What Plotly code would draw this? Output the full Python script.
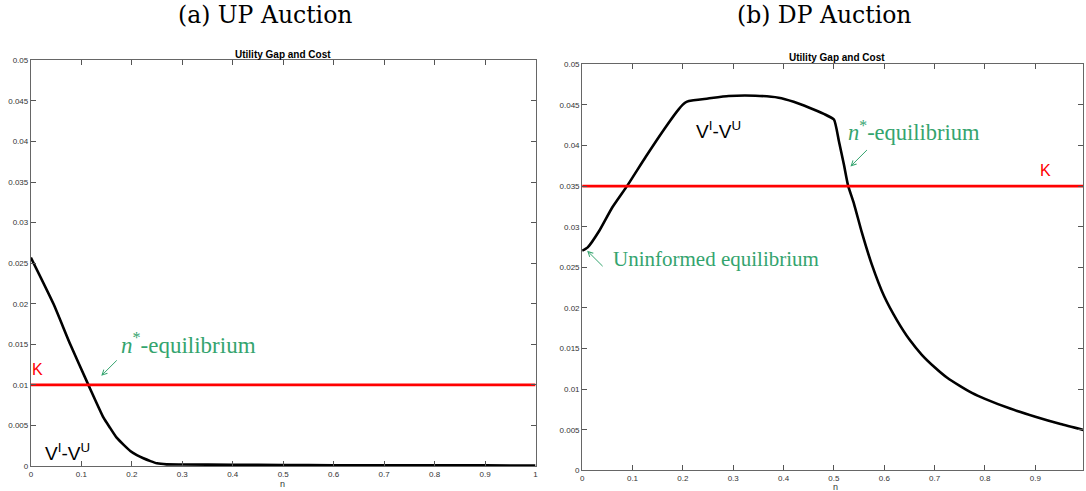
import plotly.graph_objects as go

# ---- data ----
n_up = [0, 0.045, 0.078, 0.114, 0.144, 0.157, 0.17, 0.184, 0.197, 0.21, 0.223, 0.237,
        0.25, 0.269, 0.3, 0.4, 0.5, 0.6, 0.7, 0.8, 0.9, 1.0]
gap_up = [0.0257, 0.01996, 0.0150, 0.0100, 0.00596, 0.0047, 0.00349, 0.0026, 0.00185,
          0.00135, 0.00095, 0.0006, 0.00033, 0.0002, 0.00018, 0.00015, 0.00012, 0.0001,
          0.00009, 0.00008, 0.00007, 0.00006]
k_up = [0.01, 0.01]

n_dp = [0, 0.011, 0.034, 0.06, 0.09, 0.126, 0.166, 0.192, 0.205, 0.212, 0.25, 0.291,
        0.344, 0.39, 0.42, 0.45, 0.48, 0.5, 0.51, 0.52, 0.528, 0.54, 0.555, 0.575,
        0.60, 0.625, 0.65, 0.675, 0.70, 0.725, 0.75, 0.775, 0.80, 0.85, 0.90, 0.95, 1.0]
gap_dp = [0.02705, 0.02746, 0.0295, 0.0324, 0.0351, 0.0386, 0.0423, 0.0445, 0.0453,
          0.0455, 0.0458, 0.0461, 0.04614, 0.0459, 0.0454, 0.0447, 0.0439, 0.0432,
          0.0405, 0.0376, 0.0351, 0.0328, 0.0294, 0.0254, 0.0214, 0.0185, 0.0161,
          0.0142, 0.0127, 0.0114, 0.0104, 0.0095, 0.0088, 0.0076, 0.0066, 0.0057, 0.0049]
k_dp = [0.035, 0.035]
k_x = [0, 1]

x_ticks = [0, 0.1, 0.2, 0.3, 0.4, 0.5, 0.6, 0.7, 0.8, 0.9, 1]
x_labels = ["0", "0.1", "0.2", "0.3", "0.4", "0.5", "0.6", "0.7", "0.8", "0.9", "1"]
y_ticks = [0, 0.005, 0.01, 0.015, 0.02, 0.025, 0.03, 0.035, 0.04, 0.045, 0.05]
y_labels = ["0", "0.005", "0.01", "0.015", "0.02", "0.025", "0.03", "0.035", "0.04", "0.045", "0.05"]

GREEN = "#34a46e"
W, H = 1086, 491


def py(y):
    # page pixel for a desired photographed pixel (capture squeezes vertically)
    return (y - 3.7) / 0.9802


def px(x):
    return (x - 1.6) / 0.997


def fy(y):
    return 1 - py(y) / H


def fx(x):
    return px(x) / W


fig = go.Figure()
fig.add_trace(go.Scatter(x=n_up, y=gap_up, mode="lines",
                         line=dict(color="black", width=2.6, shape="spline", smoothing=0.5),
                         xaxis="x", yaxis="y", showlegend=False))
fig.add_trace(go.Scatter(x=k_x, y=k_up, mode="lines", line=dict(color="#ff0000", width=2.6),
                         xaxis="x", yaxis="y", showlegend=False))
fig.add_trace(go.Scatter(x=n_dp, y=gap_dp, mode="lines",
                         line=dict(color="black", width=2.6, shape="spline", smoothing=0.5),
                         xaxis="x2", yaxis="y2", showlegend=False))
fig.add_trace(go.Scatter(x=k_x, y=k_dp, mode="lines", line=dict(color="#ff0000", width=2.6),
                         xaxis="x2", yaxis="y2", showlegend=False))

axcommon = dict(showline=True, linecolor="#666", linewidth=1, mirror="ticks", ticks="inside",
                ticklen=5, tickcolor="#555", showgrid=False, zeroline=False,
                tickfont=dict(family="Liberation Sans, Arial", size=8, color="#333"))

x2_end = px(1086)
fig.update_layout(
    width=W, height=H, margin=dict(l=0, r=0, t=0, b=0),
    paper_bgcolor="white", plot_bgcolor="white",
    xaxis=dict(domain=[fx(30.5), fx(536)], range=[0, 1], anchor="y",
               tickvals=x_ticks, ticktext=x_labels, **axcommon),
    yaxis=dict(domain=[fy(465), fy(60)], range=[0, 0.05], anchor="x",
               tickvals=y_ticks, ticktext=y_labels, **axcommon),
    xaxis2=dict(domain=[fx(582.7), 1.0], range=[0, (x2_end - px(582.7)) / (px(1088.7) - px(582.7))],
                anchor="y2", tickvals=x_ticks, ticktext=x_labels, **axcommon),
    yaxis2=dict(domain=[fy(469.3), fy(64)], range=[0, 0.05], anchor="x2",
                tickvals=y_ticks, ticktext=y_labels, **axcommon),
)

ann = []
serif = "DejaVu Serif, serif"
latex = "Liberation Serif, Times New Roman, serif"
sans = "Liberation Sans, Arial, sans-serif"


def txt(text, xref, yref, x, y, font):
    ann.append(dict(text=text, xref=xref, yref=yref, x=x, y=y, showarrow=False,
                    xanchor="center", yanchor="middle", font=font))


# panel titles
txt("(a) UP Auction", "paper", "paper", fx(265), fy(15), dict(family=serif, size=23.5, color="black"))
txt("(b) DP Auction", "paper", "paper", fx(825), fy(15), dict(family=serif, size=23.5, color="black"))
# small axes titles
txt("<b>Utility Gap and Cost</b>", "paper", "paper", fx(283), fy(54), dict(family=sans, size=10, color="black"))
txt("<b>Utility Gap and Cost</b>", "paper", "paper", fx(838), fy(57), dict(family=sans, size=10, color="black"))
# x labels
txt("n", "paper", "paper", fx(283), 1 - 488.5 / H, dict(family=sans, size=9, color="#333"))
txt("n", "paper", "paper", fx(836), 1 - 492 / H, dict(family=sans, size=9, color="#333"))

# left panel annotations
txt("<i>n</i><sup>*</sup>-equilibrium", "x", "y", 0.3126, 0.01506, dict(family=latex, size=23, color=GREEN))
ann.append(dict(text="", xref="x", yref="y", x=0.1395, y=0.01111, ax=17, ay=-17,
                showarrow=True, arrowhead=5, arrowsize=1, arrowwidth=1, arrowcolor=GREEN))
txt("K", "x", "y", 0.0129, 0.01185, dict(family=sans, size=16, color="#ff0000"))
txt("V<sup>I</sup>-V<sup>U</sup>", "x", "y", 0.0722, 0.0017, dict(family=sans, size=19, color="black"))

# right panel annotations
txt("V<sup>I</sup>-V<sup>U</sup>", "x2", "y2", 0.2713, 0.04186, dict(family=sans, size=19, color="black"))
txt("<i>n</i><sup>*</sup>-equilibrium", "x2", "y2", 0.6587, 0.04175, dict(family=latex, size=22.5, color=GREEN))
ann.append(dict(text="", xref="x2", yref="y2", x=0.5328, y=0.03742, ax=18, ay=-18,
                showarrow=True, arrowhead=5, arrowsize=1, arrowwidth=1, arrowcolor=GREEN))
txt("K", "x2", "y2", 0.9196, 0.03692, dict(family=sans, size=16, color="#ff0000"))
txt("Uninformed equilibrium", "x2", "y2", 0.2654, 0.02607, dict(family=latex, size=21, color=GREEN))
ann.append(dict(text="", xref="x2", yref="y2", x=0.0099, y=0.02705, ax=17, ay=17,
                showarrow=True, arrowhead=5, arrowsize=1, arrowwidth=1, arrowcolor=GREEN))

fig.update_layout(annotations=ann)
fig.write_html(
    "out.html",
    config={"displayModeBar": False, "staticPlot": True},
    post_script=(
        "document.documentElement.style.margin='0';"
        "document.documentElement.style.overflow='hidden';"
        "document.body.style.margin='0';document.body.style.overflow='hidden';"
        "var d=document.getElementById('{plot_id}');"
        "d.style.position='fixed';d.style.left='0px';d.style.top='0px';"
    ),
)
